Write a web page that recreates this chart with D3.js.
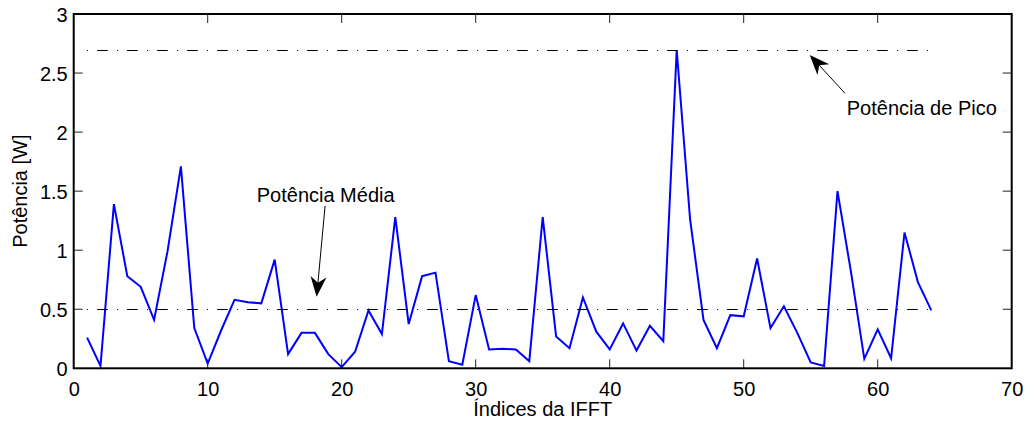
<!DOCTYPE html>
<html>
<head>
<meta charset="utf-8">
<script src="https://cdn.jsdelivr.net/npm/d3@7"></script>
<style>
  html, body { margin: 0; padding: 0; background: #fff; }
  svg { display: block; }
  text { font-family: "Liberation Sans", Arial, Helvetica, sans-serif; fill: #000; }
</style>
</head>
<body>
<svg id="chart" width="1027" height="421"></svg>
<script>
// ---- data ----
const indices = [1,2,3,4,5,6,7,8,9,10,11,12,13,14,15,16,17,18,19,20,21,22,23,24,25,26,27,28,29,30,31,32,
                 33,34,35,36,37,38,39,40,41,42,43,44,45,46,47,48,49,50,51,52,53,54,55,56,57,58,59,60,61,62,63,64];
const power = [0.26,0.02,1.39,0.78,0.69,0.41,0.99,1.71,0.34,0.04,0.32,0.58,0.56,0.55,0.92,0.12,
               0.30,0.30,0.12,0.01,0.14,0.49,0.29,1.28,0.375,0.78,0.81,0.06,0.03,0.62,0.16,0.165,
               0.16,0.06,1.28,0.27,0.17,0.60,0.31,0.16,0.38,0.15,0.36,0.23,2.695,1.26,0.41,0.17,
               0.45,0.44,0.93,0.34,0.525,0.30,0.05,0.02,1.50,0.82,0.08,0.33,0.085,1.15,0.73,0.49];
const meanPower = 0.5;
const peakPower = 2.695;
const xTicks = [0,10,20,30,40,50,60,70];
const yTicks = [0,0.5,1,1.5,2,2.5,3];
const yTickLabels = ["0","0.5","1","1.5","2","2.5","3"];
const xLabel = "Índices da IFFT";
const yLabel = "Potência [W]";
const meanLabel = "Potência Média";
const peakLabel = "Potência de Pico";

// ---- layout ----
const svg = d3.select("#chart");
const pL = 73.7, pR = 1011.7, pT = 14, pB = 368.3;
const x = d3.scaleLinear().domain([0,70]).range([pL,pR]);
const y = d3.scaleLinear().domain([0,3]).range([pB,pT]);
const fontSize = 20;
const tickLen = 9;

// data line
const line = d3.line().x((d,i)=>x(indices[i])).y(d=>y(d));
svg.append("path").datum(power)
  .attr("d", line).attr("fill","none")
  .attr("stroke","#0000ff").attr("stroke-width",2).attr("stroke-linejoin","miter");

// reference lines (dash-dot)
const first = indices[0], last = indices[indices.length-1];
[meanPower, peakPower].forEach(v => {
  svg.append("line")
    .attr("x1", x(first)).attr("x2", x(last))
    .attr("y1", Math.round(y(v))+0.5).attr("y2", Math.round(y(v))+0.5)
    .attr("stroke","#000").attr("stroke-width",1)
    .attr("stroke-dasharray","1,9,10.7,9.3");
});

// axes
const gx = svg.append("g").attr("transform",`translate(0,${pB})`)
  .call(d3.axisBottom(x).tickValues(xTicks).tickSize(0).tickPadding(13).tickFormat(d3.format("d")));
const gy = svg.append("g").attr("transform",`translate(${pL},0)`)
  .call(d3.axisLeft(y).tickValues(yTicks).tickSize(0).tickPadding(6).tickFormat((d,i)=>yTickLabels[i]));
[gx, gy].forEach(g => {
  g.select(".domain").remove();
  g.selectAll("text").attr("font-size", fontSize).attr("font-family",'"Liberation Sans", Arial, sans-serif').attr("fill","#000");
});
gy.selectAll("text").attr("dy","0.36em");
gx.selectAll("text").attr("dy","0.72em");

// inward ticks on all four sides
const ticks = svg.append("g").attr("stroke","#222").attr("stroke-width",1);
xTicks.filter(t=>t>0 && t<70).forEach(t => {
  ticks.append("line").attr("x1",x(t)).attr("x2",x(t)).attr("y1",pB).attr("y2",pB-tickLen);
  ticks.append("line").attr("x1",x(t)).attr("x2",x(t)).attr("y1",pT).attr("y2",pT+tickLen);
});
yTicks.filter(t=>t>0 && t<3).forEach(t => {
  ticks.append("line").attr("x1",pL).attr("x2",pL+tickLen).attr("y1",y(t)).attr("y2",y(t));
  ticks.append("line").attr("x1",pR).attr("x2",pR-tickLen).attr("y1",y(t)).attr("y2",y(t));
});

// frame
svg.append("rect").attr("x",pL).attr("y",pT).attr("width",pR-pL).attr("height",pB-pT)
  .attr("fill","none").attr("stroke","#000").attr("stroke-width",2);

// axis labels
svg.append("text").attr("x",(pL+pR)/2).attr("y",416)
  .attr("text-anchor","middle").attr("font-size",fontSize).text(xLabel);
svg.append("text").attr("transform",`translate(27,${(pT+pB)/2}) rotate(-90)`)
  .attr("text-anchor","middle").attr("font-size",fontSize).text(yLabel);

// annotations
function arrow(x0,y0,x1,y1){
  const dx = x1-x0, dy = y1-y0, L = Math.hypot(dx,dy);
  const ux = dx/L, uy = dy/L, px = -uy, py = ux;
  const hl = 20, hw = 8, notch = 14;
  svg.append("line").attr("x1",x0).attr("y1",y0).attr("x2",x1-ux*notch).attr("y2",y1-uy*notch)
    .attr("stroke","#000").attr("stroke-width",1);
  const bx = x1-ux*hl, by = y1-uy*hl;
  const pts = [[x1,y1],[bx+px*hw,by+py*hw],[x1-ux*notch,y1-uy*notch],[bx-px*hw,by-py*hw]];
  svg.append("path").attr("d","M"+pts.map(p=>p.join(",")).join("L")+"Z").attr("fill","#000");
}
// mean annotation
svg.append("text").attr("x",x(13.66)).attr("y",y(1.41)).attr("font-size",fontSize).text(meanLabel);
arrow(x(18.76), y(1.375), x(18.13), y(0.606));
// peak annotation
svg.append("text").attr("x",x(57.69)).attr("y",y(2.145)).attr("font-size",fontSize).text(peakLabel);
arrow(x(57.56), y(2.329), x(54.93), y(2.653));
</script>
</body>
</html>
